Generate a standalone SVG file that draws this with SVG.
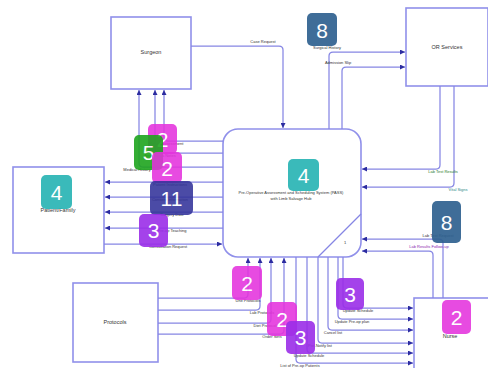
<svg xmlns="http://www.w3.org/2000/svg" width="488" height="368" viewBox="0 0 488 368">
<style>
.box{fill:#fff;stroke:#9090ea;stroke-width:1.6}
.c{fill:none;stroke:#8686e4;stroke-width:1.25}
.lb{font-family:"Liberation Sans",Arial,sans-serif;font-size:4px;fill:#333;text-anchor:middle}
.nm{font-family:"Liberation Sans",Arial,sans-serif;font-size:5.5px;fill:#333;text-anchor:middle}
.bd text{font-family:"Liberation Sans",Arial,sans-serif;font-size:21px;fill:#fff;text-anchor:middle}
</style>
<defs>
<marker id="a" markerWidth="5" markerHeight="5" refX="5" refY="2.5" orient="auto" markerUnits="userSpaceOnUse">
<path d="M0,0 L5,2.5 L0,5 z" fill="#2c2ca0"/>
</marker>
</defs>
<g id="surgeon"><rect class="box" x="111" y="17" width="80" height="72"/><text class="nm" x="151" y="54">Surgeon</text></g>
<g id="orservices"><rect class="box" x="406" y="8" width="82" height="78"/><text class="nm" x="447" y="49">OR Services</text></g>
<g id="patient"><rect class="box" x="13" y="167" width="91" height="86"/><text class="nm" x="58" y="212">Patient/Family</text></g>
<g id="system"><rect class="box" x="223" y="129" width="138" height="128" rx="15"/><path class="c" d="M318,257 L361,214"/><text class="lb" x="345" y="244">1</text>
<text class="lb" x="291" y="194">Pre-Operative Assessment and Scheduling System (PASS)</text><text class="lb" x="291" y="200">with Limb Salvage Hub</text></g>
<g id="protocols"><rect class="box" x="73" y="283" width="85" height="79"/><text class="nm" x="115" y="324">Protocols</text></g>
<g id="nurse"><rect class="box" x="414" y="298" width="76" height="72"/><text class="nm" x="450" y="338">Nurse</text></g>
<g id="connectors">
<path class="c" marker-end="url(#a)" d="M191,46 H279 Q283,46 283,50 V128"/>
<path class="c" marker-end="url(#a)" d="M223,141 H168 Q164,141 164,137 V90"/>
<path class="c" marker-end="url(#a)" d="M223,153 H159 Q155,153 155,149 V90"/>
<path class="c" marker-end="url(#a)" d="M223,167 H143 Q139,167 139,163 V90"/>
<path class="c" marker-end="url(#a)" d="M223,182 H105"/>
<path class="c" marker-end="url(#a)" d="M223,197 H105"/>
<path class="c" marker-end="url(#a)" d="M223,212 H105"/>
<path class="c" marker-end="url(#a)" d="M223,228 H105"/>
<path class="c" marker-end="url(#a)" d="M104,244 H222"/>
<path class="c" marker-end="url(#a)" d="M329,129 V56 Q329,52 333,52 H405"/>
<path class="c" marker-end="url(#a)" d="M342,129 V71 Q342,67 346,67 H405"/>
<path class="c" marker-end="url(#a)" d="M440,86 V165 Q440,169 436,169 H362"/>
<path class="c" marker-end="url(#a)" d="M454,86 V183 Q454,187 450,187 H362"/>
<path class="c" marker-end="url(#a)" d="M443,298 V243 Q443,239 439,239 H362"/>
<path class="c" marker-end="url(#a)" d="M433,298 V255 Q433,251 429,251 H362"/>
<path class="c" marker-end="url(#a)" d="M158,298 H244 Q248,298 248,294 V258"/>
<path class="c" marker-end="url(#a)" d="M158,310 H256 Q260,310 260,306 V258"/>
<path class="c" marker-end="url(#a)" d="M158,323 H267 Q271,323 271,319 V258"/>
<path class="c" marker-end="url(#a)" d="M158,334 H280 Q284,334 284,330 V258"/>
<path class="c" marker-end="url(#a)" d="M343,257 V304 Q343,308 347,308 H413"/>
<path class="c" marker-end="url(#a)" d="M338,257 V315 Q338,319 342,319 H413"/>
<path class="c" marker-end="url(#a)" d="M328,257 V326 Q328,330 332,330 H413"/>
<path class="c" marker-end="url(#a)" d="M318,257 V339 Q318,343 322,343 H413"/>
<path class="c" marker-end="url(#a)" d="M307,257 V349 Q307,353 311,353 H413"/>
<path class="c" marker-end="url(#a)" d="M296,257 V359 Q296,363 300,363 H413"/>
<text class="lb" x="263" y="43">Case Request</text>
<text class="lb" x="327" y="49">Surgical History</text>
<text class="lb" x="338" y="64">Admission Slip</text>
<text class="lb" x="443" y="173" style="fill:#2a7a2a">Lab Test Results</text>
<text class="lb" x="458" y="191" style="fill:#2a8a8a">Vital Signs</text>
<text class="lb" x="438" y="237">Lab Test Request</text>
<text class="lb" x="429" y="248" style="fill:#8a2ab0">Lab Results Follow-up</text>
<text class="lb" x="166" y="145">Pre-op Assessment</text>
<text class="lb" x="160" y="157">Anesthesia Notes</text>
<text class="lb" x="137" y="171">Medical History</text>
<text class="lb" x="170" y="186">Patient Instructions</text>
<text class="lb" x="170" y="201">Consent Information</text>
<text class="lb" x="172" y="216">Surgery Date</text>
<text class="lb" x="172" y="232">Pre-op Teaching</text>
<text class="lb" x="168" y="248">Consultation Request</text>
<text class="lb" x="248" y="302">Unit Protocols</text>
<text class="lb" x="262" y="314">Lab Protocols</text>
<text class="lb" x="266" y="327">Diet Protocols</text>
<text class="lb" x="272" y="338">Order Sets</text>
<text class="lb" x="358" y="312">Update Schedule</text>
<text class="lb" x="352" y="323">Update Pre-op plan</text>
<text class="lb" x="333" y="334">Cancel list</text>
<text class="lb" x="320" y="347">Pre-Notify list</text>
<text class="lb" x="309" y="357">Update Schedule</text>
<text class="lb" x="300" y="367">List of Pre-op Patients</text>
</g>
<g class="bd" id="badges">
<g opacity="0.92"><rect x="307" y="13" width="30" height="33" rx="5" fill="#2f6190"/><text x="322" y="38">8</text></g>
<g opacity="0.88"><rect x="148" y="124" width="29" height="30" rx="5" fill="#e433dd"/><text x="162.5" y="147">2</text></g>
<g opacity="0.9"><rect x="134" y="135" width="29" height="35" rx="5" fill="#1fa51f"/><text x="148.5" y="160">5</text></g>
<g opacity="0.88"><rect x="152" y="152" width="30" height="31" rx="5" fill="#e433dd"/><text x="167" y="176">2</text></g>
<g opacity="0.88"><rect x="150" y="181" width="43" height="34" rx="5" fill="#33339a"/><text x="171.5" y="206">11</text></g>
<g opacity="0.9"><rect x="139" y="214" width="29" height="33" rx="5" fill="#9b2ee8"/><text x="153.5" y="238">3</text></g>
<g opacity="0.92"><rect x="41" y="175" width="31" height="34" rx="5" fill="#2ab5b5"/><text x="56.5" y="200">4</text></g>
<g opacity="0.92"><rect x="288" y="159" width="31" height="32" rx="5" fill="#2ab5b5"/><text x="303.5" y="183">4</text></g>
<g opacity="0.92"><rect x="432" y="201" width="29" height="42" rx="5" fill="#2f6190"/><text x="446.5" y="230">8</text></g>
<g opacity="0.88"><rect x="232" y="266" width="30" height="34" rx="5" fill="#e433dd"/><text x="247" y="291">2</text></g>
<g opacity="0.88"><rect x="267" y="302" width="30" height="34" rx="5" fill="#e433dd"/><text x="282" y="327">2</text></g>
<g opacity="0.9"><rect x="286" y="321" width="29" height="33" rx="5" fill="#9b2ee8"/><text x="300.5" y="345">3</text></g>
<g opacity="0.9"><rect x="336" y="278" width="28" height="32" rx="5" fill="#9b2ee8"/><text x="350" y="302">3</text></g>
<g opacity="0.88"><rect x="442" y="300" width="29" height="34" rx="5" fill="#e433dd"/><text x="456.5" y="325">2</text></g>
</g>
</svg>
